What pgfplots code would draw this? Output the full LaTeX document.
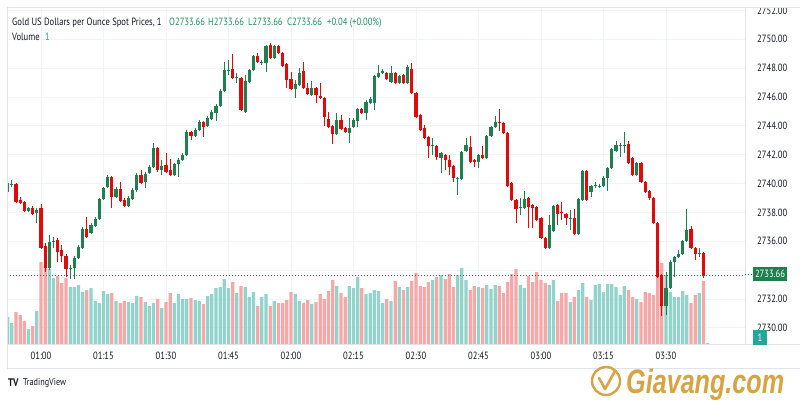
\documentclass[border=0pt]{standalone}
\usepackage{fontspec}
\setmainfont{PT Sans}[FakeStretch=0.82]
\newfontfamily\wmfont{Liberation Sans}[FakeStretch=0.74]
\usepackage{pgfplots}
\usepackage{pgfplotstable}
\pgfplotsset{compat=1.18}

\definecolor{gridc}{HTML}{F0F3FA}
\definecolor{framec}{HTML}{E0E3EB}
\definecolor{textc}{HTML}{131722}
\definecolor{cup}{HTML}{1F7F4F}
\definecolor{cdown}{HTML}{E00A0A}
\definecolor{vup}{HTML}{92D4CB}
\definecolor{vdown}{HTML}{F6A8A9}
\definecolor{hdrgreen}{HTML}{1F8F5F}
\definecolor{volteal}{HTML}{26A69A}
\definecolor{gold}{HTML}{D6A445}

\newcommand\tickfont{\fontsize{10.5}{12}\selectfont}

% one-minute candles: t = minutes after 00:00, o h l c = price, v = volume
\pgfplotstableread{
t o h l c v
52 2739.41 2740.25 2739.21 2740.04 27
53 2739.90 2740.25 2739.76 2739.97 21
57 2738.10 2738.38 2738.03 2738.31 15
59 2737.96 2738.31 2737.27 2738.17 33
62 2734.15 2736.43 2734.01 2735.95 75
63 2735.95 2736.30 2735.53 2736.02 66
67 2734.08 2734.36 2733.39 2734.15 57
68 2734.15 2734.98 2733.39 2734.84 57
69 2734.84 2735.74 2734.77 2735.60 59
70 2735.53 2736.99 2735.46 2736.85 52
72 2736.57 2737.27 2736.50 2737.13 56
73 2737.06 2737.68 2736.99 2737.54 43
74 2737.54 2739.00 2737.47 2738.93 41
75 2738.93 2739.76 2738.86 2739.69 53
76 2739.76 2740.59 2739.69 2740.45 50
78 2739.07 2739.76 2739.00 2739.62 43
81 2738.44 2739.14 2738.38 2739.00 42
82 2738.93 2739.69 2738.86 2739.55 41
83 2739.55 2740.73 2739.41 2740.59 48
85 2740.11 2740.80 2739.69 2740.66 42
86 2740.73 2741.29 2740.66 2741.15 38
87 2741.15 2742.81 2741.08 2742.46 41
89 2740.94 2741.63 2740.59 2741.22 36
92 2740.59 2741.42 2740.52 2741.35 41
93 2741.35 2741.77 2740.45 2741.63 50
94 2741.63 2742.12 2741.56 2741.98 45
95 2741.98 2743.71 2741.91 2743.57 45
97 2743.30 2743.85 2743.23 2743.71 44
98 2743.71 2744.40 2743.64 2744.27 43
100 2743.99 2744.68 2743.92 2744.54 48
101 2744.47 2745.10 2744.40 2744.96 50
102 2744.89 2745.51 2744.33 2745.37 56
103 2745.37 2746.55 2745.30 2746.41 57
104 2746.41 2748.42 2746.34 2747.87 65
105 2747.80 2748.56 2747.52 2747.87 56
107 2747.31 2747.66 2746.97 2747.38 51
109 2744.96 2747.52 2744.89 2747.11 57
110 2747.04 2747.94 2746.97 2747.87 47
111 2747.87 2748.91 2747.80 2748.84 52
113 2748.35 2748.56 2748.22 2748.42 47
114 2748.35 2749.60 2747.73 2749.53 50
116 2748.70 2749.60 2748.63 2749.53 43
121 2746.55 2747.18 2745.93 2746.90 50
122 2746.83 2748.01 2746.76 2747.66 43
125 2746.14 2747.11 2746.07 2746.62 40
131 2743.43 2744.89 2743.36 2744.40 58
134 2743.50 2744.54 2742.81 2743.85 58
135 2743.92 2744.54 2743.85 2744.40 56
136 2744.33 2745.24 2743.92 2745.17 67
138 2744.89 2745.79 2744.40 2745.65 50
139 2745.58 2746.00 2745.51 2745.86 51
140 2745.58 2747.52 2745.10 2747.45 54
141 2747.38 2748.22 2747.31 2747.66 53
142 2747.66 2747.94 2747.59 2747.80 41
144 2747.04 2748.15 2746.97 2747.66 43
146 2746.97 2747.52 2746.90 2747.45 57
148 2746.97 2748.22 2746.90 2748.08 57
154 2742.60 2743.16 2741.98 2742.67 64
156 2741.77 2742.19 2740.73 2742.12 69
160 2740.32 2740.45 2739.21 2740.38 69
161 2740.32 2742.26 2740.25 2742.19 76
162 2742.26 2743.16 2742.19 2742.67 64
165 2741.49 2742.05 2741.08 2741.98 57
167 2741.77 2743.36 2741.70 2743.30 59
168 2743.30 2743.99 2743.23 2743.92 55
169 2743.92 2744.68 2743.85 2744.27 59
175 2738.31 2739.00 2737.82 2738.38 59
176 2738.31 2739.48 2738.24 2738.93 56
182 2735.53 2737.82 2735.46 2737.13 59
183 2736.71 2738.51 2736.64 2738.44 64
187 2737.54 2738.17 2736.78 2737.61 42
189 2736.50 2739.00 2736.43 2738.93 54
190 2738.86 2740.94 2738.79 2740.87 61
192 2739.41 2739.90 2739.07 2739.83 44
193 2739.83 2740.11 2739.69 2739.90 59
194 2739.76 2739.97 2739.69 2739.83 60
195 2739.83 2740.52 2739.76 2740.38 52
196 2740.38 2741.15 2739.48 2741.08 60
197 2741.08 2742.46 2741.01 2742.39 60
198 2742.26 2742.95 2742.19 2742.67 57
199 2742.60 2742.81 2741.84 2742.67 49
200 2742.60 2743.57 2742.12 2742.67 58
203 2740.59 2741.49 2740.52 2741.42 45
210 2731.51 2733.87 2730.89 2732.76 69
211 2732.76 2734.70 2732.69 2734.56 52
212 2734.56 2734.98 2733.52 2734.91 47
213 2734.91 2735.40 2734.84 2735.12 47
214 2735.12 2736.09 2735.05 2736.02 53
215 2736.02 2738.24 2735.95 2736.78 49
218 2735.12 2735.53 2734.91 2735.19 51
220 2733.66 2733.66 2733.66 2733.66 1
}\upbars

\pgfplotstableread{
t o h l c v
54 2739.97 2740.04 2738.65 2738.72 32
55 2738.86 2739.07 2738.58 2738.65 29
56 2738.72 2738.79 2738.03 2738.10 23
58 2738.31 2738.44 2737.82 2737.89 18
60 2738.31 2738.58 2735.46 2735.53 82
61 2735.67 2735.88 2733.87 2734.15 78
64 2736.09 2736.23 2734.56 2735.26 68
65 2735.40 2735.74 2734.56 2734.98 61
66 2734.98 2735.12 2733.52 2734.08 66
71 2736.85 2737.68 2736.23 2736.30 54
77 2740.45 2740.52 2738.31 2739.07 51
79 2739.62 2740.11 2738.72 2738.79 41
80 2738.86 2739.00 2738.38 2738.44 43
84 2740.59 2740.94 2739.97 2740.04 47
88 2742.46 2742.53 2740.80 2740.94 45
90 2741.29 2742.12 2740.73 2740.80 42
91 2740.94 2741.70 2740.52 2740.59 51
96 2743.57 2743.64 2743.02 2743.30 46
99 2744.27 2744.33 2743.23 2743.92 40
106 2747.94 2748.98 2747.25 2747.31 62
108 2747.31 2747.38 2745.03 2745.10 58
112 2748.84 2749.05 2748.35 2748.42 38
115 2749.60 2749.74 2748.63 2748.70 38
117 2749.53 2749.60 2748.98 2749.05 41
118 2749.05 2749.12 2748.08 2748.15 41
119 2748.28 2748.35 2746.62 2747.18 44
120 2747.25 2747.73 2746.48 2746.55 52
123 2747.80 2748.42 2746.55 2746.62 41
124 2746.62 2746.97 2746.14 2746.21 44
126 2746.62 2746.69 2745.58 2746.14 42
127 2746.07 2746.97 2745.86 2745.93 50
128 2745.93 2746.00 2743.99 2744.61 45
129 2744.47 2744.96 2743.85 2743.92 53
130 2743.99 2744.06 2742.74 2743.43 64
132 2744.40 2744.75 2743.71 2743.78 51
133 2743.85 2743.92 2743.50 2743.57 47
137 2745.17 2745.24 2744.82 2744.89 56
143 2747.66 2747.73 2747.18 2747.25 45
145 2747.66 2747.73 2746.90 2746.97 63
147 2747.52 2747.59 2746.90 2746.97 54
149 2747.94 2748.35 2746.21 2746.28 63
150 2746.28 2746.34 2744.54 2744.61 71
151 2744.75 2744.82 2743.64 2743.71 58
152 2743.85 2744.06 2743.09 2743.16 57
153 2743.23 2743.30 2741.77 2742.60 62
155 2742.60 2742.67 2741.63 2741.84 67
157 2741.98 2742.05 2740.94 2741.63 65
158 2741.63 2741.98 2740.59 2741.15 70
159 2741.22 2741.29 2740.11 2740.38 57
163 2742.53 2743.30 2741.42 2741.49 54
164 2741.63 2741.70 2741.15 2741.49 58
166 2741.98 2742.60 2741.70 2741.77 56
170 2744.27 2745.17 2743.64 2744.20 58
171 2744.20 2744.27 2743.43 2743.50 51
172 2743.50 2743.57 2739.76 2739.83 62
173 2740.04 2740.11 2738.79 2738.86 70
174 2738.86 2738.93 2737.27 2738.24 75
177 2739.00 2739.07 2736.92 2738.38 68
178 2738.51 2738.58 2736.92 2738.31 62
179 2738.38 2738.44 2737.40 2737.47 72
180 2737.61 2737.68 2736.16 2736.23 64
181 2736.23 2736.30 2735.46 2735.53 61
184 2738.51 2738.58 2737.13 2737.89 43
185 2738.03 2738.72 2737.47 2737.96 51
186 2737.89 2737.96 2737.13 2737.61 51
188 2737.61 2738.24 2736.43 2736.50 47
191 2740.87 2740.94 2738.79 2738.86 47
201 2742.74 2742.95 2741.35 2741.42 54
202 2741.77 2741.84 2740.52 2740.59 47
204 2741.42 2741.49 2740.04 2740.11 42
205 2740.11 2740.18 2739.35 2739.41 52
206 2739.48 2739.55 2738.86 2739.00 51
207 2739.00 2739.07 2737.20 2737.27 49
208 2737.27 2737.34 2733.45 2733.52 67
209 2733.66 2733.73 2730.82 2731.51 81
216 2736.85 2737.06 2735.46 2735.53 41
217 2735.53 2735.60 2734.70 2735.12 49
219 2735.19 2735.26 2733.45 2733.62 63
}\downbars

\pgfplotsset{
  chartbase/.style={
    at={(7pt,56pt)}, anchor=south west,
    width=738pt, height=337pt, scale only axis,
    xmin=51.84, xmax=228.96,
    axis line style={draw=none}, major tick length=0pt,
  },
  pricey/.style={ymin=2728.88, ymax=2752.235},
}

\begin{document}
\begin{tikzpicture}[x=1pt,y=1pt]
\useasboundingbox (0,0) rectangle (800,400);
\fill[white] (0,0) rectangle (800,400);

% grid, price scale and time scale
% (the 2734.00 label sits under the last-price box, so it is left blank)
\begin{axis}[chartbase, pricey,
  xtick={60,75,...,210},
  xticklabels={01:00,01:15,01:30,01:45,02:00,02:15,02:30,02:45,03:00,03:15,03:30},
  ytick={2730,2732,...,2752},
  yticklabels={2730.00,2732.00,,2736.00,2738.00,2740.00,2742.00,2744.00,2746.00,2748.00,2750.00,2752.00},
  yticklabel pos=right,
  grid=major, grid style={gridc, line width=0.8pt},
  tick label style={font=\tickfont, text=textc, inner sep=0pt},
  xticklabel style={anchor=center, yshift=-12pt},
  yticklabel style={anchor=west, xshift=12pt},
]
\addplot[draw=none, forget plot] coordinates {(60,2740)};
\end{axis}

% volume
\begin{axis}[chartbase, ymin=0, ymax=337, hide axis]
\addplot[ybar, bar width=3.2pt, bar shift=0pt, fill=vup, draw=none] table[x=t, y=v] {\upbars};
\addplot[ybar, bar width=3.2pt, bar shift=0pt, fill=vdown, draw=none] table[x=t, y=v] {\downbars};
\end{axis}

% candles
\begin{axis}[chartbase, pricey, hide axis]
\addplot[cup, line width=0.8pt, dash pattern=on 1pt off 2pt] coordinates {(51.84,2733.66) (228.96,2733.66)};
\addplot[draw=none, mark=none, error bars/.cd, y dir=plus, y explicit, error mark=none,
  error bar style={draw=cup, line width=1pt}]
  table[x=t, y=l, y error expr=\thisrow{h}-\thisrow{l}] {\upbars};
\addplot[draw=none, mark=none, error bars/.cd, y dir=plus, y explicit, error mark=none,
  error bar style={draw=cdown, line width=1pt}]
  table[x=t, y=l, y error expr=\thisrow{h}-\thisrow{l}] {\downbars};
\addplot[draw=none, mark=none, error bars/.cd, y dir=plus, y explicit, error mark=none,
  error bar style={draw=cup, line width=3.2pt}]
  table[x=t, y=o, y error expr=\thisrow{c}-\thisrow{o}] {\upbars};
\addplot[draw=none, mark=none, error bars/.cd, y dir=plus, y explicit, error mark=none,
  error bar style={draw=cdown, line width=3.2pt}]
  table[x=t, y=c, y error expr=\thisrow{o}-\thisrow{c}] {\downbars};
\end{axis}

% frame of the chart
\fill[white] (745,393) rectangle (800,400);
\draw[framec, line width=0.8pt] (7,32) -- (7,393) -- (800,393);
\draw[framec, line width=0.8pt] (7,56) -- (800,56);
\draw[framec, line width=0.8pt] (7,32) -- (800,32);
\draw[framec, line width=0.8pt] (745,56) -- (745,393);

% last price and last volume
\draw[cup, line width=0.8pt, dash pattern=on 1pt off 2pt] (745,125.5) -- (753,125.5);
\fill[cup] (753,119) rectangle (787,133);
\node[text=white, font=\tickfont, inner sep=0pt] at (770,126) {2733.66};
\fill[volteal] (753,55) rectangle (767,70);
\node[text=white, font=\tickfont, inner sep=0pt] at (760,62.5) {1};

% legend line
\node[anchor=base west, inner sep=0pt, text=textc, font=\tickfont] at (12,374) {Gold US Dollars per Ounce Spot Prices, 1};
\node[anchor=base west, inner sep=0pt, text=hdrgreen, font=\tickfont] at (169,374) {O2733.66};
\node[anchor=base west, inner sep=0pt, text=hdrgreen, font=\tickfont] at (208,374) {H2733.66};
\node[anchor=base west, inner sep=0pt, text=hdrgreen, font=\tickfont] at (248,374) {L2733.66};
\node[anchor=base west, inner sep=0pt, text=hdrgreen, font=\tickfont] at (287,374) {C2733.66};
\node[anchor=base west, inner sep=0pt, text=hdrgreen, font=\tickfont] at (327,374) {+0.04 (+0.00\%)};
\node[anchor=base west, inner sep=0pt, text=textc, font=\tickfont] at (12,359.5) {Volume};
\node[anchor=base west, inner sep=0pt, text=volteal, font=\tickfont] at (45,359.5) {1};

% footer
\node[anchor=west, inner sep=0pt, text=textc, font=\fontsize{11}{12}\selectfont\bfseries] at (8,17) {TV};
\node[anchor=west, inner sep=0pt, text=textc, font=\fontsize{10}{12}\selectfont] at (23,17) {TradingView};
\draw[gold, line width=2.4pt] (606,19) circle (14);
\draw[gold, line width=2.6pt, line cap=round, line join=round] (599,22) -- (605,11) -- (615,29);
\node[anchor=base west, inner sep=0pt, text=gold, font=\wmfont\fontsize{34}{36}\selectfont\bfseries\itshape] at (626,7) {Giavang.com};
\end{tikzpicture}
\end{document}
